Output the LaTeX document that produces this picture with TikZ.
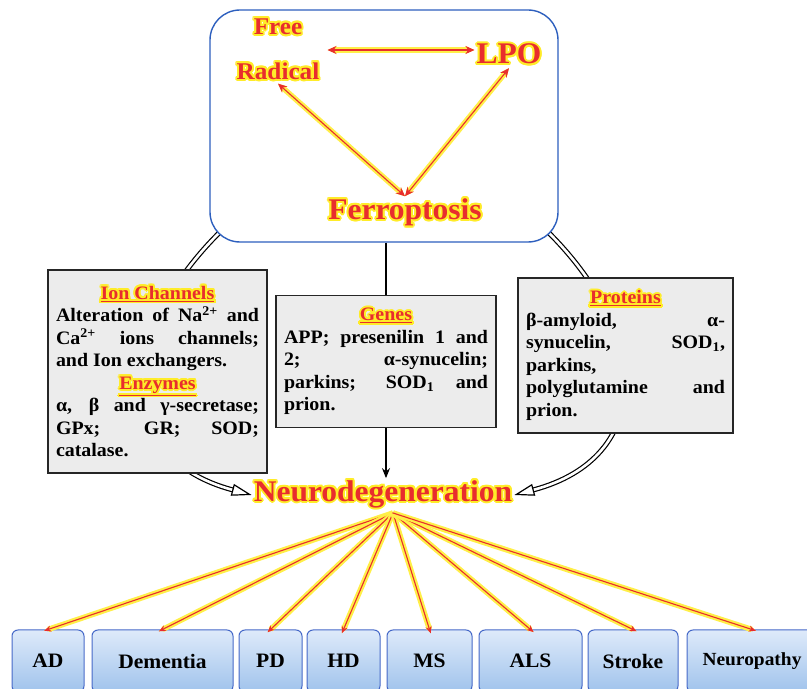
\documentclass[tikz,border=0pt]{standalone}
\usepackage{fontspec}
\setmainfont{Liberation Serif}[FakeStretch=1.05]
\usepackage{contour}
\usetikzlibrary{arrows.meta,positioning,backgrounds,calc}

\definecolor{nred}{RGB}{232,45,45}
\definecolor{glow}{RGB}{255,236,40}
\definecolor{frameblue}{RGB}{45,95,190}
\definecolor{boxgray}{RGB}{236,236,236}
\definecolor{tabtop}{RGB}{222,234,250}
\definecolor{tabbot}{RGB}{160,195,236}
\definecolor{tabline}{RGB}{70,105,200}

\contourlength{1.9pt}
\contournumber{16}

\newcommand{\glowtext}[1]{\contour{glow}{#1}}
\newcommand{\headline}[1]{{\centering\color{nred}\contour{glow}{\underline{#1}}\par}}

\begin{document}
\begin{tikzpicture}[
    x=1pt, y=1pt,
    >=Stealth,
    execute at begin node={\bfseries\parindent=0pt},
    topframe/.style={
        draw=frameblue,
        line width=1.4pt,
        fill=white,
        rounded corners=30pt,
        minimum width=348pt,
        minimum height=232pt
    },
    redword/.style={
        text=nred,
        inner sep=2pt
    },
    infobox/.style={
        draw=black!85,
        line width=1.5pt,
        fill=boxgray,
        align=justify,
        inner xsep=8pt,
        inner ysep=4pt,
        font=\fontsize{19}{22.5}\selectfont
    },
    tab/.style={
        draw=tabline,
        line width=1pt,
        rounded corners=6pt,
        top color=tabtop,
        bottom color=tabbot,
        minimum height=62pt,
        font=\fontsize{20.5}{24}\selectfont
    },
    glowline/.style={
        draw=nred,
        line width=1.1pt,
        preaction={draw=glow!85!white, line width=5.5pt}
    },
    ray/.style={
        glowline,
        -{Stealth[length=7pt,width=6pt]},
        shorten >=-4pt
    },
    swap/.style={
        glowline,
        {Stealth[length=9pt,width=8pt]}-{Stealth[length=9pt,width=8pt]}
    },
    dbl/.style={
        draw=black,
        line width=1.2pt,
        double=white,
        double distance=2.6pt,
        -{Triangle[length=20pt,width=12pt,fill=white]}
    }
]

    \useasboundingbox (0,0) rectangle (807,689);

    % Ferroptosis frame
    \node[topframe] (frame) at (384,563) {};
    \node[redword, align=center, font=\fontsize{24}{45}\selectfont] (radical) at (278,639)
        {\glowtext{Free}\\\glowtext{Radical}};
    \node[redword, font=\fontsize{30}{34}\selectfont] (lpo) at (509,634) {\glowtext{LPO}};
    \node[redword, font=\fontsize{30}{34}\selectfont] (ferro) at (405,476) {\glowtext{Ferroptosis}};

    \draw[swap, shorten <=6pt] (radical.east) -- (lpo.west |- radical.east);
    \draw[swap] (radical.south) -- (ferro.north);
    \draw[swap] (lpo.south) -- (ferro.north);

    % Middle boxes
    \node[infobox, text width=203pt, minimum height=203pt] (ion) at (157.5,317.5) {%
        \headline{Ion Channels}
        Alteration of Na\textsuperscript{2+} and\linebreak
        Ca\textsuperscript{2+} ions channels;\linebreak
        and Ion exchangers.\par
        \headline{Enzymes}
        α, β and γ-secretase;\linebreak
        GPx; GR; SOD;\linebreak
        catalase.};

    \node[infobox, text width=204pt, minimum height=132pt] (genes) at (386,327.5) {%
        \headline{Genes}
        APP; presenilin 1 and\linebreak
        2; α-synucelin;\linebreak
        parkins; SOD\textsubscript{1} and\linebreak
        prion.};

    \node[infobox, text width=199pt, minimum height=155pt] (proteins) at (625.5,333.5) {%
        \headline{Proteins}
        β-amyloid, α-\linebreak
        synucelin, SOD\textsubscript{1},\linebreak
        parkins,\newline
        polyglutamine and\linebreak
        prion.};

    \node[redword, font=\fontsize{30}{34}\selectfont] (neuro) at (383,194) {\glowtext{Neurodegeneration}};

    \draw[line width=1.5pt] (frame.south -| genes.north) -- (genes.north);
    \draw[line width=1.5pt, -{Stealth[length=10pt,width=8pt]}] (genes.south) -- (genes.south |- neuro.north);

    % Curved arrows behind the boxes
    \coordinate (leftfoot) at (219,456);
    \coordinate (rightfoot) at (549,456);
    \begin{pgfonlayer}{background}
        \draw[dbl] (leftfoot) to[out=225, in=165, looseness=1.4] (neuro.west);
        \draw[dbl] (rightfoot) to[out=-45, in=15, looseness=1.4] (neuro.east);
    \end{pgfonlayer}

    % Diseases
    \foreach \name/\label/\x/\w in {ad/AD/48/72, dementia/Dementia/162.5/141,
        pd/PD/270.5/63, hd/HD/343.5/73, ms/MS/429.5/85, als/ALS/530.5/103,
        stroke/Stroke/633/90}
        \node[tab, minimum width=\w pt] (\name) at (\x,28) {\label};
    \node[tab, minimum width=130pt, font=\fontsize{18.5}{22}\selectfont] (neuropathy) at (752,28) {Neuropathy};

    \coordinate (hub) at (393,176);
    \foreach \name in {ad,dementia,pd,hd,ms,als,stroke,neuropathy}
        \draw[ray] (hub) -- (\name.north);

\end{tikzpicture}
\end{document}
